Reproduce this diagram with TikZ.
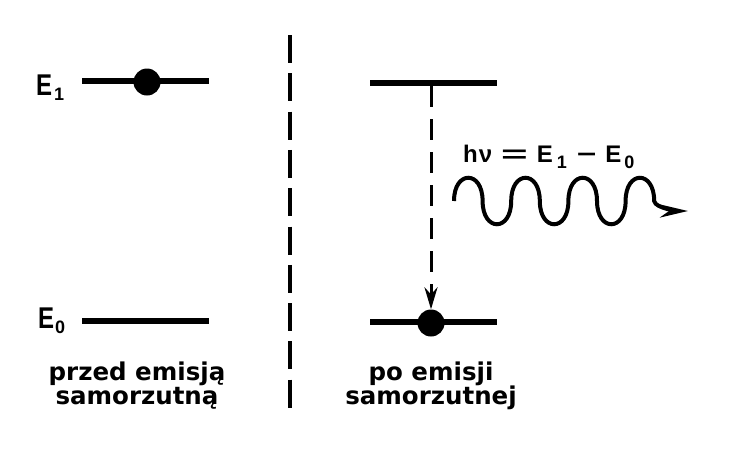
\documentclass[tikz,border=0pt]{standalone}
\usepackage{fontspec}
\setmainfont{Liberation Sans}
\newfontfamily\capfont{DejaVu Sans}
\usetikzlibrary{arrows.meta}
\begin{document}
\begin{tikzpicture}[x=1pt,y=-1pt,
  levelbar/.style={rectangle,fill=black,inner sep=0pt,minimum width=127pt,minimum height=6pt},
  electron/.style={circle,fill=black,inner sep=0pt,minimum size=27pt},
  divider/.style={line width=4pt,dash pattern=on 28pt off 10.3pt},
  transition/.style={line width=3pt,dash pattern=on 21pt off 12pt,-{Stealth[length=22pt,width=13pt]}},
  photon/.style={line width=4pt,-{Stealth[length=28pt,width=13pt]}},
  elabel/.style={inner sep=0pt,anchor=base west,font=\fontsize{30}{30}\selectfont\bfseries},
  caption/.style={inner sep=0pt,align=center,anchor=north,font=\capfont\fontsize{24.5}{24}\selectfont\bfseries},
  formula/.style={inner sep=0pt,anchor=base west,font=\fontsize{24}{24}\selectfont\bfseries}]
\useasboundingbox (0,0) rectangle (752,448);
% levels
\node[levelbar] (upL) at (145.5,81) {};
\node[levelbar] (loL) at (145,321) {};
\node[levelbar] (upR) at (433,83) {};
\node[levelbar] (loR) at (433,322) {};
% electrons
\node[electron] (eL) at (147,82) {};
\node[electron] (eR) at (431,323) {};
% labels
\node[elabel] (E1) at (36,95) {\scalebox{0.8}[1]{E}\kern2pt\raisebox{-5pt}{\fontsize{18}{18}\selectfont 1}};
\node[elabel] (E0) at (38,328) {\scalebox{0.8}[1]{E}\kern1pt\raisebox{-5pt}{\fontsize{18}{18}\selectfont 0}};
% divider
\coordinate (dtop) at (290,35);
\coordinate (dbot) at (290,409);
\draw[divider] (dtop) -- (dbot);
% transition
\draw[transition] (upR.south -| eR) -- (eR.north);
% photon
\node[formula] (hv) at (463,162) {h\kern1ptν\kern9pt\scalebox{1.9}[1]{=}\kern9pt E\kern4pt\raisebox{-6pt}{\fontsize{18}{18}\selectfont 1}\kern10pt\scalebox{1.4}[1]{−}\kern9pt E\kern3pt\raisebox{-6pt}{\fontsize{18}{18}\selectfont 0}};
\coordinate (ws) at (454,201);
\coordinate (we) at (688,211);
\draw[photon] (ws)
  .. controls +(0,-31) and +(0,-31) .. ++(28.6,0)
  .. controls +(0,31) and +(0,31) .. ++(28.6,0)
  .. controls +(0,-31) and +(0,-31) .. ++(28.6,0)
  .. controls +(0,31) and +(0,31) .. ++(28.6,0)
  .. controls +(0,-31) and +(0,-31) .. ++(28.6,0)
  .. controls +(0,31) and +(0,31) .. ++(28.6,0)
  .. controls +(0,-31) and +(0,-31) .. ++(28.6,0)
  .. controls +(1,8) and +(-6,0) .. (we);
% captions
\node[caption] (capL) at (137,362) {przed emisją\\samorzutną};
\node[caption] (capR) at (431,362) {po emisji\\samorzutnej};
\end{tikzpicture}
\end{document}
